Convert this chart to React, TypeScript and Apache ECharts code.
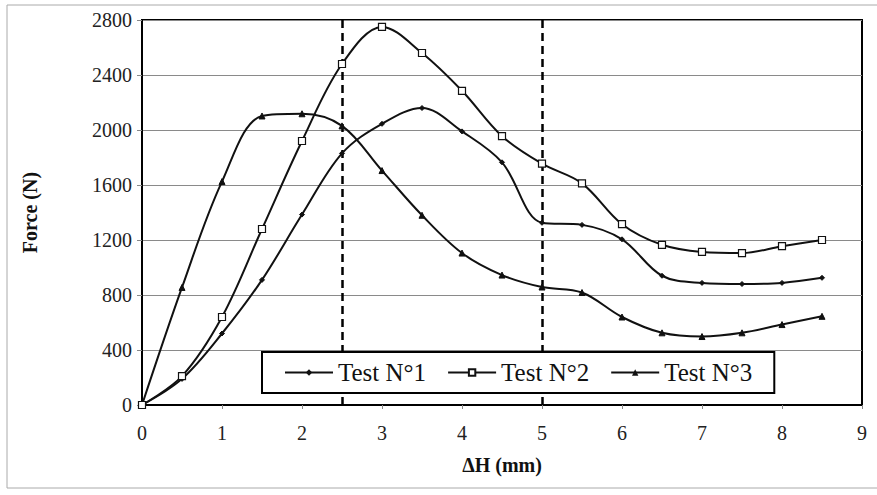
import React, { useEffect, useRef } from "react";
import * as echarts from "echarts";

const xValues = [0, 0.5, 1, 1.5, 2, 2.5, 3, 3.5, 4, 4.5, 5, 5.5, 6, 6.5, 7, 7.5, 8, 8.5];
const test1 = [0, 190, 520, 910, 1385, 1830, 2045, 2160, 1990, 1765, 1325, 1310, 1205, 940, 888, 880, 888, 925];
const test2 = [0, 210, 640, 1280, 1920, 2480, 2750, 2560, 2285, 1955, 1755, 1612, 1315, 1165, 1113, 1105, 1155, 1200];
const test3 = [0, 855, 1625, 2102, 2118, 2030, 1705, 1380, 1105, 945, 858, 818, 640, 525, 498, 525, 585, 645];
const seriesNames = ["Test N°1", "Test N°2", "Test N°3"];
const dashedAt = [2.5, 5];

const FONT = "Liberation Serif";

export default function App() {
  const ref = useRef<HTMLDivElement>(null);
  useEffect(() => {
    if (!ref.current) return;
    const chart = echarts.init(ref.current, undefined, { renderer: "svg" });
    const pair = (ys: number[]) => xValues.map((x, i) => [x, ys[i]]);
    const common = {
      type: "line",
      smooth: 0.35,
      lineStyle: { color: "#111", width: 2 },
      itemStyle: { color: "#111", borderColor: "#111" },
      color: "#111",
    };
    chart.setOption({
      animation: false,
      backgroundColor: "#fff",
      textStyle: { fontFamily: FONT },
      graphic: [
        {
          type: "rect",
          shape: { x: 7, y: 5, width: 900, height: 483 },
          style: { fill: "none", stroke: "#aaa", lineWidth: 1 },
          silent: true,
          z: -10,
        },
      ],
      grid: {
        left: 142,
        right: 15,
        top: 20,
        bottom: 90,
        show: true,
        borderColor: "#000",
        borderWidth: 2,
        backgroundColor: "transparent",
      },
      legend: {
        left: 262,
        top: 352,
        z: 20,
        padding: [8, 22, 8, 22],
        itemGap: 21,
        itemWidth: 48,
        itemHeight: 8,
        borderColor: "#000",
        borderWidth: 2,
        backgroundColor: "#fff",
        textStyle: { fontFamily: FONT, fontSize: 25, color: "#111" },
        data: seriesNames,
      },
      xAxis: {
        type: "value",
        min: 0,
        max: 9,
        interval: 1,
        name: "ΔH (mm)",
        nameLocation: "middle",
        nameGap: 50,
        nameTextStyle: { fontFamily: FONT, fontSize: 20, fontWeight: "bold", color: "#111" },
        axisLine: { lineStyle: { color: "#000", width: 2 } },
        axisTick: { show: true, length: 4, lineStyle: { color: "#888" } },
        axisLabel: { fontFamily: FONT, fontSize: 20, color: "#222", margin: 18 },
        splitLine: { show: false },
      },
      yAxis: {
        type: "value",
        min: 0,
        max: 2800,
        interval: 400,
        name: "Force (N)",
        nameLocation: "middle",
        nameGap: 102,
        nameRotate: 90,
        nameTextStyle: { fontFamily: FONT, fontSize: 20, fontWeight: "bold", color: "#111" },
        axisLine: { show: true, lineStyle: { color: "#000", width: 2 } },
        axisTick: { show: true, length: 5, lineStyle: { color: "#888" } },
        axisLabel: {
          fontFamily: FONT,
          fontSize: 20,
          color: "#222",
          margin: 10,
          formatter: (v: number) => String(v),
        },
        splitLine: { show: true, lineStyle: { color: "#8a8a8a", width: 1 } },
      },
      series: [
        {
          ...common,
          name: seriesNames[0],
          data: pair(test1),
          symbol: "diamond",
          symbolSize: 5,
          z: 3,
          markLine: {
            silent: true,
            symbol: "none",
            z: 2,
            label: { show: false },
            lineStyle: { color: "#000", type: [8, 5], width: 2.5 },
            data: dashedAt.map((v) => ({ xAxis: v })),
          },
        },
        {
          ...common,
          name: seriesNames[1],
          data: pair(test2),
          symbol: "rect",
          symbolSize: 7,
          itemStyle: { color: "#fff", borderColor: "#111", borderWidth: 1.2 },
          z: 4,
        },
        {
          ...common,
          name: seriesNames[2],
          data: pair(test3),
          symbol: "triangle",
          symbolSize: 6,
          z: 3,
        },
      ],
    });
    return () => chart.dispose();
  }, []);
  return <div ref={ref} style={{ width: 877, height: 495, position: "absolute", left: 0, top: 0 }} />;
}
